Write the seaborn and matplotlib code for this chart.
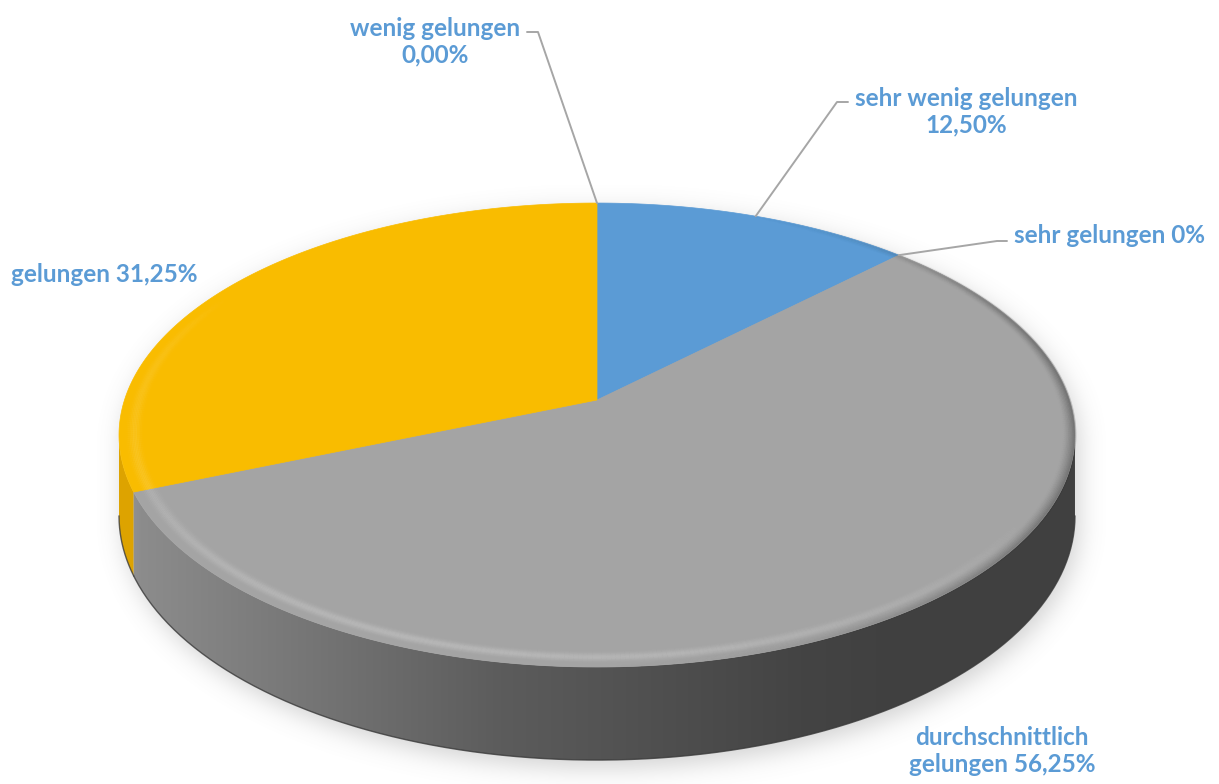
import numpy as np
import matplotlib
matplotlib.use("Agg")
import matplotlib.pyplot as plt
import seaborn as sns
from matplotlib.patches import Polygon
from matplotlib.collections import LineCollection
from matplotlib.path import Path

sns.set_theme(style="white")
plt.rcParams['font.family'] = ['Lato', 'DejaVu Sans']

# ---- data (slices run clockwise from 12 o'clock) ----
categories = ["sehr wenig gelungen", "sehr gelungen", "durchschnittlich gelungen",
              "gelungen", "wenig gelungen"]
shares = [12.50, 0.0, 56.25, 31.25, 0.0]
label_texts = ["sehr wenig gelungen\n12,50%", "sehr gelungen 0%",
               "durchschnittlich\ngelungen 56,25%", "gelungen 31,25%",
               "wenig gelungen\n0,00%"]
top_colors = ["#5B9BD5", "#ED7D31", "#A4A4A4", "#F9BC00", "#4472C4"]
side_colors = ["#4A86BE", "#C9641F", None, "#DDA300", "#375FA8"]
text_color = "#5B9BD5"

# ---- projection of the tilted disc ----
CX, CY = 597.0, 400.0
A, B, P = 472.5, 226.7, 0.151
DEPTH = 79.0


def proj(r, theta_deg, drop=0.0):
    t = np.radians(theta_deg)
    u, v = r * np.sin(t), r * np.cos(t)
    s = 1.0 / (1.0 + P * v)
    return CX + A * u * s, CY - B * v * s + drop * s


W, H = 1219, 784
fig = plt.figure(figsize=(W / 100, H / 100), dpi=100)
ax = fig.add_axes([0, 0, 1, 1])
ax.set_xlim(0, W)
ax.set_ylim(H, 0)
ax.axis("off")

total = sum(shares)
bounds = np.concatenate([[0], np.cumsum(shares) / total * 360.0])

vis_lo = np.degrees(np.arccos(-P))
vis_hi = 360 - vis_lo

# ---- soft drop shadow under the disc ----
outline = np.vstack([np.column_stack(proj(1.0, np.linspace(vis_hi, 360 + vis_lo, 300))),
                     np.column_stack(proj(1.0, np.linspace(vis_lo, vis_hi, 300), DEPTH))])
step = 2
gx, gy = np.meshgrid(np.arange(0, W, step), np.arange(0, H, step))
pts = np.column_stack([gx.ravel() - 4, gy.ravel() - 7])
mask = Path(outline).contains_points(pts).reshape(gx.shape).astype(float)
sig = 6.0
k = np.arange(-20, 21)
ker = np.exp(-0.5 * (k / sig) ** 2)
ker /= ker.sum()
blur = np.apply_along_axis(lambda m: np.convolve(m, ker, mode="same"), 0, mask)
blur = np.apply_along_axis(lambda m: np.convolve(m, ker, mode="same"), 1, blur)
shadow = np.zeros(blur.shape + (4,))
shadow[..., :3] = 0.5
shadow[..., 3] = blur * 0.35
ax.imshow(shadow, extent=(0, W, H, 0), zorder=1, interpolation="bilinear")

# ---- side walls ----
gray_levels_x = [120, 140, 500, 800, 900, 1080]
gray_levels_v = [150, 140, 92, 68, 64, 64]
xs = np.arange(W)
gv = np.interp(xs, gray_levels_x, gray_levels_v) / 255.0
grad = np.zeros((H, W, 4))
grad[..., 0] = gv[None, :]
grad[..., 1] = gv[None, :]
grad[..., 2] = gv[None, :]
grad[..., 3] = 1.0

for i, (a, b) in enumerate(zip(bounds[:-1], bounds[1:])):
    lo, hi = max(a, vis_lo), min(b, vis_hi)
    if hi <= lo:
        continue
    th = np.linspace(lo, hi, 200)
    x1, y1 = proj(1.0, th)
    x2, y2 = proj(1.0, th[::-1], DEPTH)
    poly = Polygon(np.column_stack([np.r_[x1, x2], np.r_[y1, y2]]), closed=True,
                   facecolor=side_colors[i] or "none", edgecolor="none", zorder=2)
    ax.add_patch(poly)
    if side_colors[i] is None:
        im = ax.imshow(grad, extent=(0, W, H, 0), zorder=2.1, interpolation="bilinear")
        im.set_clip_path(poly)
    xb, yb = proj(1.0, th, DEPTH)
    ax.plot(xb, yb, color="#3A3A3A", lw=1.0, alpha=0.8, zorder=2.2)

# ---- top surface ----
for i, (a, b) in enumerate(zip(bounds[:-1], bounds[1:])):
    if b - a <= 0:
        continue
    th = np.linspace(a, b, 300)
    x1, y1 = proj(1.0, th)
    poly = Polygon(np.column_stack([np.r_[CX, x1], np.r_[CY, y1]]), closed=True,
                   facecolor=top_colors[i], edgecolor=top_colors[i], lw=0.5, zorder=3)
    ax.add_patch(poly)

# ---- rounded bevel along the rim: soft light band at front-left, dark edge at right ----
th = np.linspace(0, 360, 721)
mids = 0.5 * (th[:-1] + th[1:])


def rim(r, rgb, alphas, lw):
    x, y = proj(r, th)
    segs = np.stack([np.column_stack([x[:-1], y[:-1]]),
                     np.column_stack([x[1:], y[1:]])], axis=1)
    cols = np.zeros((len(mids), 4))
    cols[:, :3] = rgb
    cols[:, 3] = np.clip(alphas, 0, 1)
    ax.add_collection(LineCollection(segs, colors=cols, linewidths=lw, zorder=4))


light = np.clip(np.cos(np.radians(mids - 210)), 0, 1) ** 0.7
dark = np.clip(np.cos(np.radians(mids - 100)), 0, 1) ** 3

for r in np.linspace(0.950, 0.985, 12):
    w = np.exp(-0.5 * ((r - 0.968) / 0.008) ** 2)
    rim(r, (1, 1, 1), 0.09 * w * light, 2.0)
for r in np.linspace(0.975, 1.0, 10):
    w = ((r - 0.975) / 0.025) ** 1.5
    rim(r, (0.15, 0.15, 0.15), 0.22 * w * dark, 2.0)

# ---- labels and leader lines ----
font = dict(color=text_color, fontsize=17.5, fontweight="bold", ha="center",
            va="center", linespacing=1.2, zorder=6)
label_pos = [(966, 112), (1110, 235), (1002, 751), (104, 274), (435, 42)]
leader_knee = [((848, 102), (837, 102)), ((1007, 241), (997, 241)), None, None,
               ((527, 32), (538, 32))]

for i, (a, b) in enumerate(zip(bounds[:-1], bounds[1:])):
    ax.text(*label_pos[i], label_texts[i], **font)
    if leader_knee[i] is not None:
        ax_, ay_ = proj(1.0, 0.5 * (a + b))
        (sx, sy), (kx, ky) = leader_knee[i]
        ax.plot([sx, kx, ax_], [sy, ky, ay_], color="#A6A6A6", lw=1.4, zorder=5)

fig.savefig("out.png", dpi=100, facecolor="white")
